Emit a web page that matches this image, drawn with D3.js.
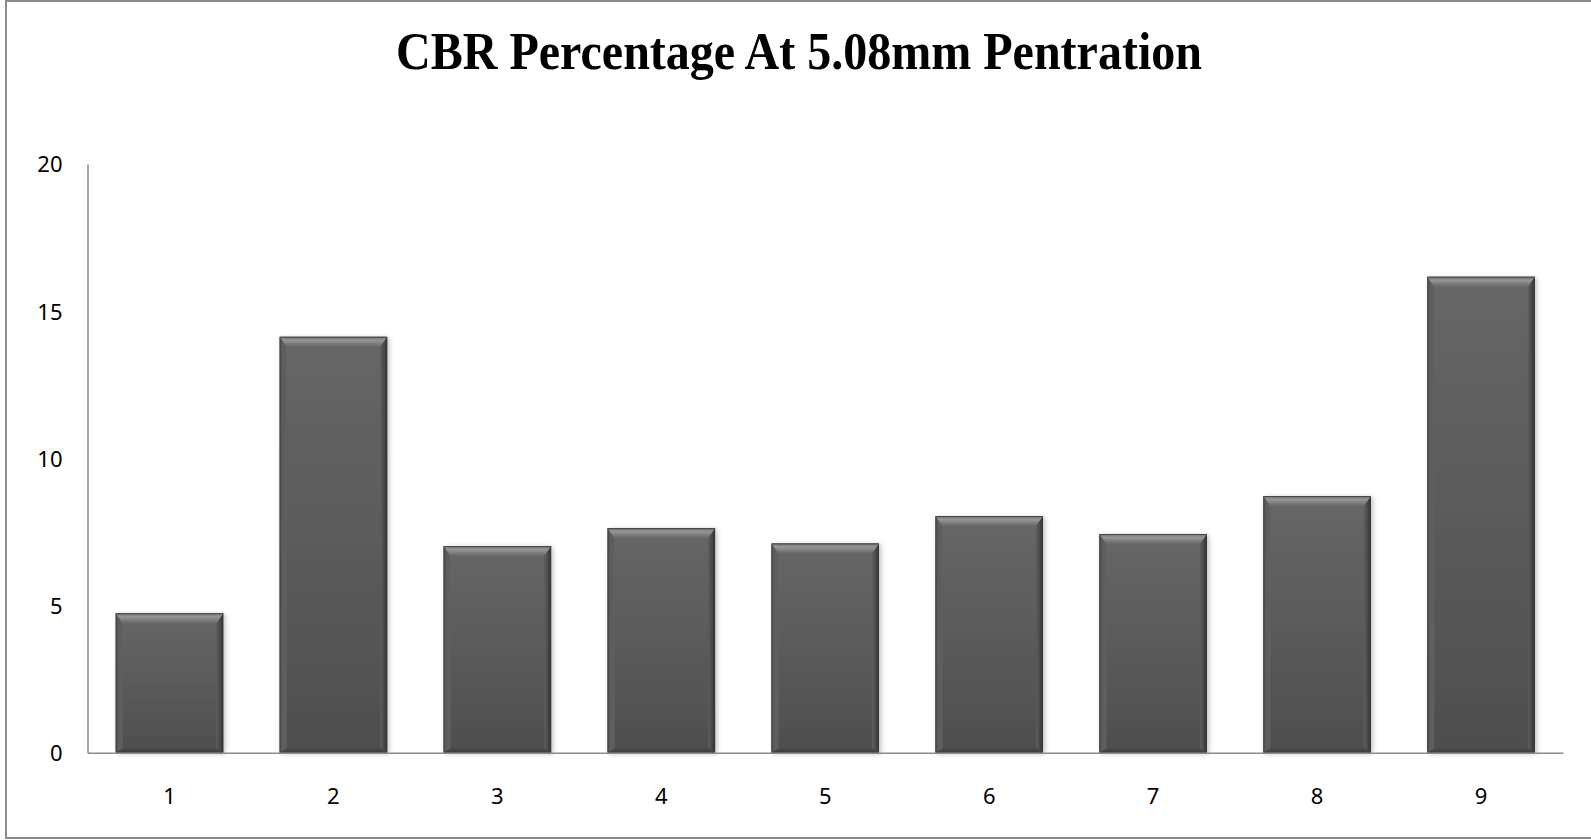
<!DOCTYPE html>
<html>
<head>
<meta charset="utf-8">
<script src="https://cdn.jsdelivr.net/npm/d3@7/dist/d3.min.js"></script>
<style>
  html, body { margin: 0; padding: 0; background: #ffffff; }
  svg { display: block; }
</style>
</head>
<body>
<svg id="chart" width="1591" height="840"></svg>
<script>
// CBR values per sample
const categories = ["1", "2", "3", "4", "5", "6", "7", "8", "9"];
const cbrValues = [4.74, 14.13, 7.02, 7.63, 7.11, 8.04, 7.43, 8.72, 16.17];
const yTicks = [0, 5, 10, 15, 20];
const titleText = "CBR Percentage At 5.08mm Pentration";

const W = 1591, H = 840;
const plot = { left: 87.5, right: 1563, top: 164, bottom: 752.7 };

const svg = d3.select("#chart");
const defs = svg.append("defs");

// Vertical face gradient
const face = defs.append("linearGradient").attr("id", "face")
  .attr("x1", 0).attr("y1", 0).attr("x2", 0).attr("y2", 1);
face.append("stop").attr("offset", "0%").attr("stop-color", "#676767");
face.append("stop").attr("offset", "100%").attr("stop-color", "#4e4e4e");

// Top bevel: bright band fading into face
const topBev = defs.append("linearGradient").attr("id", "topBev")
  .attr("x1", 0).attr("y1", 0).attr("x2", 0).attr("y2", 1);
topBev.append("stop").attr("offset", "0%").attr("stop-color", "#4a4a4a");
topBev.append("stop").attr("offset", "12%").attr("stop-color", "#7c7c7c");
topBev.append("stop").attr("offset", "35%").attr("stop-color", "#969696");
topBev.append("stop").attr("offset", "100%").attr("stop-color", "#676767");

// Left bevel
const leftBev = defs.append("linearGradient").attr("id", "leftBev")
  .attr("x1", 0).attr("y1", 0).attr("x2", 1).attr("y2", 0);
leftBev.append("stop").attr("offset", "0%").attr("stop-color", "#4e4e4e");
leftBev.append("stop").attr("offset", "40%").attr("stop-color", "#5c5c5c");
leftBev.append("stop").attr("offset", "100%").attr("stop-color", "#606060");

// Right bevel
const rightBev = defs.append("linearGradient").attr("id", "rightBev")
  .attr("x1", 0).attr("y1", 0).attr("x2", 1).attr("y2", 0);
rightBev.append("stop").attr("offset", "0%").attr("stop-color", "#5e5e5e");
rightBev.append("stop").attr("offset", "60%").attr("stop-color", "#474747");
rightBev.append("stop").attr("offset", "100%").attr("stop-color", "#2e2e2e");

// Soft shadow around bars
const shadow = defs.append("filter").attr("id", "shadow")
  .attr("x", "-20%").attr("y", "-5%").attr("width", "140%").attr("height", "110%");
shadow.append("feGaussianBlur").attr("in", "SourceAlpha").attr("stdDeviation", 2.5).attr("result", "b");
shadow.append("feOffset").attr("in", "b").attr("dx", 1.5).attr("dy", 1).attr("result", "o");
shadow.append("feComponentTransfer").attr("in", "o").attr("result", "s")
  .append("feFuncA").attr("type", "linear").attr("slope", 0.25);
const merge = shadow.append("feMerge");
merge.append("feMergeNode").attr("in", "s");
merge.append("feMergeNode").attr("in", "SourceGraphic");

// Chart frame
svg.append("rect")
  .attr("x", 6).attr("y", 1).attr("width", W + 10).attr("height", 837)
  .attr("fill", "#ffffff").attr("stroke", "#8c8c8c").attr("stroke-width", 2);

// Title (slightly condensed bold serif)
svg.append("text")
  .attr("x", 799).attr("y", 69)
  .attr("text-anchor", "middle")
  .attr("font-family", "'Liberation Serif', 'Times New Roman', serif")
  .attr("font-weight", "bold")
  .attr("font-size", 52)
  .attr("textLength", 806)
  .attr("lengthAdjust", "spacingAndGlyphs")
  .attr("fill", "#000")
  .text(titleText);

// Scales
const x = d3.scaleBand().domain(categories)
  .range([plot.left, plot.right]).paddingInner(0.344).paddingOuter(0.172);
const y = d3.scaleLinear().domain([0, 20]).range([plot.bottom, plot.top]);

// Bars with bevel
const bev = 7, bevTop = 10, bevBot = 4;
const bars = svg.append("g").selectAll("g.bar")
  .data(categories.map((c, i) => ({ c, v: cbrValues[i] })))
  .join("g").attr("class", "bar");

bars.each(function(d) {
  const g = d3.select(this);
  const x0 = x(d.c), w = x.bandwidth();
  const y0 = y(d.v), h = y(0) - y(d.v);
  g.append("rect").attr("x", x0).attr("y", y0).attr("width", w).attr("height", h)
    .attr("fill", "url(#face)").attr("filter", "url(#shadow)");
  // left side
  g.append("polygon").attr("points", [
    [x0, y0], [x0 + bev, y0 + bevTop], [x0 + bev, y0 + h - bevBot], [x0, y0 + h]
  ].join(" ")).attr("fill", "url(#leftBev)");
  // right side
  g.append("polygon").attr("points", [
    [x0 + w, y0], [x0 + w - bev, y0 + bevTop], [x0 + w - bev, y0 + h - bevBot], [x0 + w, y0 + h]
  ].join(" ")).attr("fill", "url(#rightBev)");
  // bottom
  g.append("polygon").attr("points", [
    [x0, y0 + h], [x0 + bev, y0 + h - bevBot], [x0 + w - bev, y0 + h - bevBot], [x0 + w, y0 + h]
  ].join(" ")).attr("fill", "#444444");
  // top bevel
  g.append("polygon").attr("points", [
    [x0, y0], [x0 + w, y0], [x0 + w - bev, y0 + bevTop], [x0 + bev, y0 + bevTop]
  ].join(" ")).attr("fill", "url(#topBev)");
  // outline
  g.append("rect").attr("x", x0 + 0.5).attr("y", y0 + 0.5).attr("width", w - 1).attr("height", h - 1)
    .attr("fill", "none").attr("stroke", "#3a3a3a").attr("stroke-opacity", 0.6).attr("stroke-width", 1);
});

// Axes
const labelFont = "'Noto Sans', 'Open Sans', sans-serif";

const yAxis = svg.append("g")
  .attr("transform", `translate(${plot.left},0)`)
  .call(d3.axisLeft(y).tickValues(yTicks).tickSize(0).tickPadding(25).tickFormat(d3.format("d")));
yAxis.select(".domain").attr("stroke", "#8c8c8c").attr("stroke-width", 1.5);
yAxis.selectAll("text").attr("font-family", labelFont).attr("font-size", 22).attr("fill", "#000")
  .attr("dy", "0.36em");

const xAxis = svg.append("g")
  .attr("transform", `translate(0,${plot.bottom})`)
  .call(d3.axisBottom(x).tickSize(0).tickPadding(36));
xAxis.select(".domain").attr("stroke", "#8c8c8c").attr("stroke-width", 1.5);
xAxis.selectAll("text").attr("font-family", labelFont).attr("font-size", 22).attr("fill", "#000");
</script>
</body>
</html>
